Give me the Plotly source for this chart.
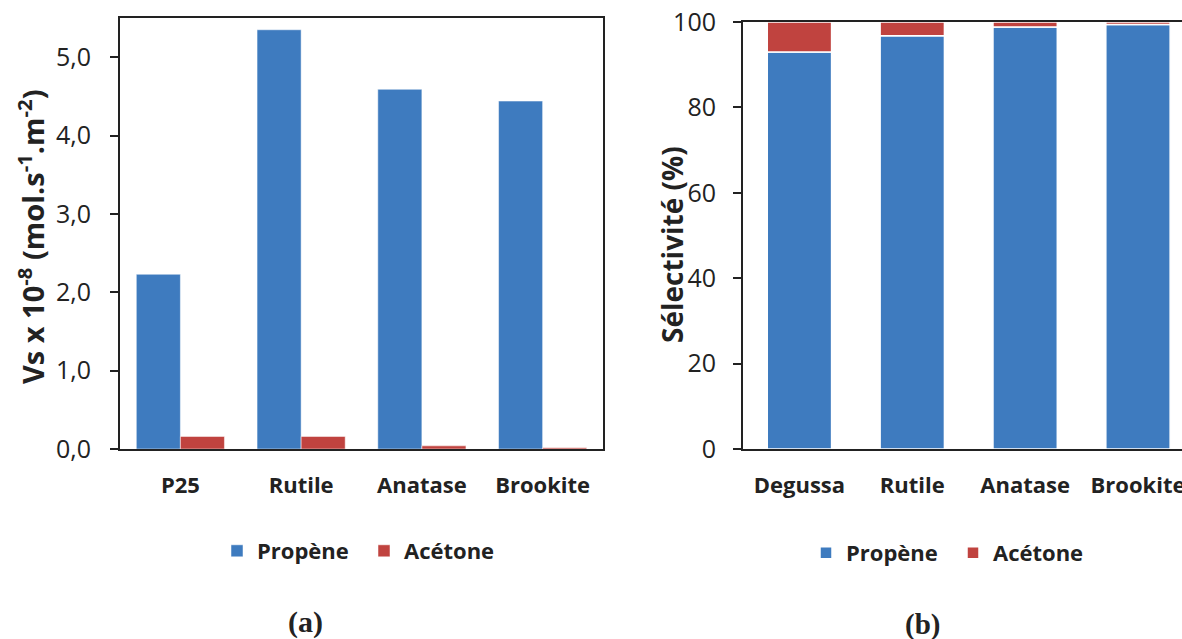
import plotly.graph_objects as go

# Data
cat_a = ["P25", "Rutile", "Anatase", "Brookite"]
propene_a = [2.23, 5.35, 4.59, 4.44]
acetone_a = [0.16, 0.16, 0.04, 0.015]

cat_b = ["Degussa", "Rutile", "Anatase", "Brookite"]
propene_b = [93.0, 96.8, 98.8, 99.4]
acetone_b = [100 - v for v in propene_b]

series_names = ["Propène", "Acétone"]
BLUE = "#3E7BBF"
RED = "#C0433F"
FONT = "Open Sans"
INK = "#222222"

W, H = 1182, 639

fig = go.Figure()

# Panel (a): grouped bars
fig.add_trace(go.Bar(x=cat_a, y=propene_a, name=series_names[0], marker=dict(color=BLUE, line=dict(color="white", width=0.5)),
                     width=0.365, offset=-0.365, xaxis="x", yaxis="y", legend="legend"))
fig.add_trace(go.Bar(x=cat_a, y=acetone_a, name=series_names[1], marker=dict(color=RED, line=dict(color="white", width=0.5)),
                     width=0.365, offset=0.0, xaxis="x", yaxis="y", legend="legend"))

# Panel (b): stacked bars
fig.add_trace(go.Bar(x=cat_b, y=propene_b, name=series_names[0], marker=dict(color=BLUE, line=dict(color="white", width=1.5)),
                     width=0.57, offset=-0.285, xaxis="x2", yaxis="y2", legend="legend2"))
fig.add_trace(go.Bar(x=cat_b, y=acetone_b, base=propene_b, name=series_names[1], marker=dict(color=RED, line=dict(color="white", width=1.5)),
                     width=0.57, offset=-0.285, xaxis="x2", yaxis="y2", legend="legend2"))

ybot = (H - 449) / H
axis_common = dict(showgrid=False, zeroline=False, linecolor=INK, linewidth=2, showline=True, automargin=False)
xtick_font = dict(size=22, family=FONT, weight="bold", color=INK)
ytick_font = dict(size=25, family=FONT, color=INK)
legend_font = dict(size=22, family=FONT, weight="bold", color=INK)

fig.update_layout(
    width=W, height=H,
    margin=dict(l=0, r=0, t=0, b=0, autoexpand=False),
    paper_bgcolor="white", plot_bgcolor="white",
    barmode="overlay",
    separators=",.",
    font=dict(family=FONT, color=INK),
    xaxis=dict(domain=[120 / W, 603 / W], range=[-0.5, 3.5], anchor="y", mirror=True,
               tickfont=xtick_font, ticks="", ticklabelstandoff=16, **axis_common),
    yaxis=dict(domain=[ybot, (H - 18) / H], range=[0, 5.5], dtick=1, tickformat=".1f", anchor="x", mirror=True,
               ticks="outside", ticklen=8, tickwidth=1.5, tickcolor=INK, ticklabelstandoff=14,
               tickfont=ytick_font, **axis_common),
    xaxis2=dict(domain=[743 / W, 1.0], range=[-0.5, 3.39], anchor="y2", mirror=True,
                tickfont=xtick_font, ticks="", ticklabelstandoff=16, **axis_common),
    yaxis2=dict(domain=[ybot, (H - 22) / H], range=[0, 100], dtick=20, anchor="x2",
                ticks="outside", ticklen=8, tickwidth=1.5, tickcolor=INK, ticklabelstandoff=12,
                tickfont=ytick_font, **axis_common),
    legend=dict(orientation="h", x=217 / W, y=(H - 551) / H, xanchor="left", yanchor="middle",
                font=legend_font, itemwidth=30, entrywidth=102, bgcolor="rgba(0,0,0,0)"),
    legend2=dict(orientation="h", x=806 / W, y=(H - 553) / H, xanchor="left", yanchor="middle",
                 font=legend_font, itemwidth=30, entrywidth=102, bgcolor="rgba(0,0,0,0)"),
    annotations=[
        dict(text="<b>Vs x 10<sup>-8</sup> (mol.s<sup>-1</sup>.m<sup>-2</sup>)</b>", x=31 / W, y=(H - 237) / H,
             xref="paper", yref="paper", showarrow=False, textangle=-90,
             font=dict(size=29, family=FONT, color=INK), xanchor="center", yanchor="middle"),
        dict(text="<b>Sélectivité (%)</b>", x=672 / W, y=(H - 245) / H,
             xref="paper", yref="paper", showarrow=False, textangle=-90,
             font=dict(size=28, family=FONT, color=INK), xanchor="center", yanchor="middle"),
        dict(text="<b>(a)</b>", x=305 / W, y=(H - 622) / H, xref="paper", yref="paper", showarrow=False,
             font=dict(size=30, family="Liberation Serif", color=INK), xanchor="center", yanchor="middle"),
        dict(text="<b>(b)</b>", x=922 / W, y=(H - 624) / H, xref="paper", yref="paper", showarrow=False,
             font=dict(size=29, family="Liberation Serif", color=INK), xanchor="center", yanchor="middle"),
    ],
)

fig.write_html("out.html", config={"displayModeBar": False},
               post_script="document.body.style.margin='0';document.body.style.overflow='hidden';")
